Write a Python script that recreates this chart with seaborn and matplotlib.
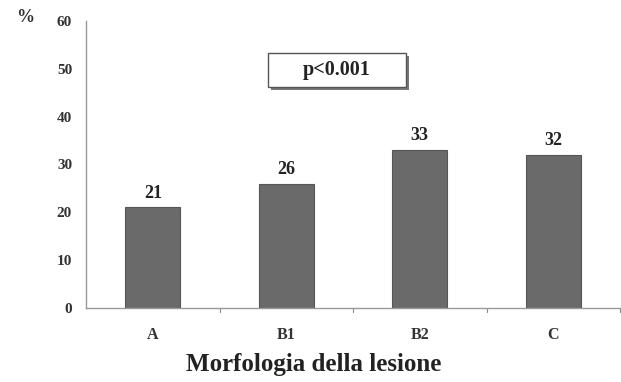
import matplotlib
matplotlib.use("Agg")
import matplotlib.pyplot as plt
import seaborn as sns
import pandas as pd

categories = ["A", "B1", "B2", "C"]
values = [21, 26, 33, 32]
yticks = [0, 10, 20, 30, 40, 50, 60]

sns.set_style("white")
plt.rcParams["font.family"] = ["Liberation Serif", "DejaVu Serif"]

df = pd.DataFrame({"morfologia": categories, "pct": values})

fig = plt.figure(figsize=(6.21, 3.82), dpi=100)
ax = fig.add_axes([0.1385, 0.194, 0.86, 0.751])

sns.barplot(data=df, x="morfologia", y="pct", color="#6a6a6a", saturation=1,
            width=0.41, edgecolor="#555555", linewidth=0.8, ax=ax)

for i, v in enumerate(values):
    ax.text(i, v + 1.2, str(v), ha="center", va="bottom",
            fontsize=13, fontweight="bold", color="#222222")

ax.set_ylim(0, 60)
ax.set_xlim(-0.5, 3.5)
ax.set_yticks(yticks)
ax.set_yticklabels([str(t) for t in yticks], fontsize=11, fontweight="bold", color="#333333")
ax.set_xticks(range(len(categories)))
ax.set_xticklabels(categories, fontsize=11.5, fontweight="bold", color="#333333")
ax.tick_params(axis="x", length=0, pad=14)
ax.tick_params(axis="y", length=3, width=0.8, color="#888888", direction="out", pad=7)

# small ticks between categories on the x axis
for b in [0.5, 1.5, 2.5, 3.5]:
    ax.plot([b, b], [0, -0.8], color="#888888", lw=0.8, clip_on=False)

for side in ["top", "right"]:
    ax.spines[side].set_visible(False)
for side in ["left", "bottom"]:
    ax.spines[side].set_color("#999999")
    ax.spines[side].set_linewidth(1.0)

ax.set_xlabel("")
ax.set_ylabel("")
fig.text(314 / 621, 1 - 365 / 382, "Morfologia della lesione", fontsize=18,
         fontweight="bold", color="#222222", ha="center", va="center")
fig.text(0.04, 0.953, "%", fontsize=13, fontweight="bold", color="#333333",
         ha="center", va="center")

# p-value box with drop shadow
bx, by, bw, bh = 268 / 621, 1 - 87 / 382, 138 / 621, 34 / 382
shadow = plt.Rectangle((bx + 0.005, by - 0.008), bw, bh, transform=fig.transFigure,
                       facecolor="#777777", edgecolor="none", zorder=5)
box = plt.Rectangle((bx, by), bw, bh, transform=fig.transFigure,
                    facecolor="white", edgecolor="#555555", linewidth=1.0, zorder=6)
fig.add_artist(shadow)
fig.add_artist(box)
fig.text(bx + bw / 2, by + bh / 2, "p<0.001", fontsize=14.5, fontweight="bold",
         color="#222222", ha="center", va="center", zorder=7)

fig.savefig("out.png", dpi=100)
